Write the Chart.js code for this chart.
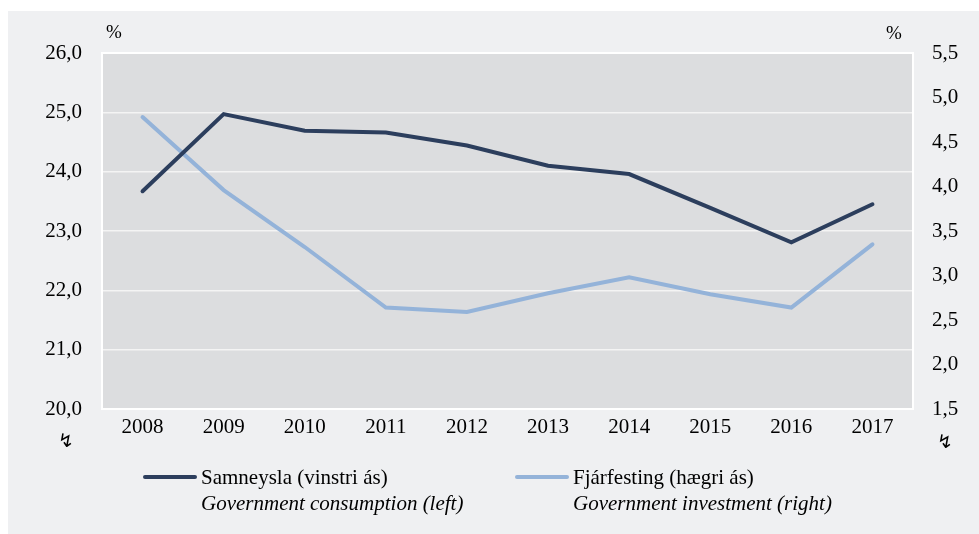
<!DOCTYPE html>
<html>
<head>
<meta charset="utf-8">
<script src="https://cdn.jsdelivr.net/npm/chart.js@4.4.0/dist/chart.umd.min.js"></script>
<style>
  body { margin: 0; background: #ffffff; font-family: 'Liberation Serif', 'Times New Roman', serif; }
  #wrap { position: relative; width: 979px; height: 534px; overflow: hidden; }
  #panel { position: absolute; left: 8px; top: 11px; width: 971px; height: 523px; background: #eff0f2; }
  #chart { position: absolute; left: 0; top: 0; }
  .txt { position: absolute; color: #000; white-space: nowrap; }
  .unit { font-size: 19px; line-height: 19px; }
  .brk { font-family: 'DejaVu Sans', sans-serif; font-size: 19px; line-height: 19px; }
  .leg { font-size: 21px; line-height: 21px; }
  .leg i { font-style: italic; }
  .swatch { position: absolute; height: 4px; border-radius: 2px; }
</style>
</head>
<body>
<div id="wrap">
  <div id="panel"><canvas id="chart" width="971" height="523"></canvas></div>
  <div class="txt unit" style="left:106px; top:22px;">%</div>
  <div class="txt unit" style="left:886px; top:23px;">%</div>
  <div class="txt brk" style="left:58px; top:431px;">↯</div>
  <div class="txt brk" style="left:937px; top:432px;">↯</div>
  <div id="legend"></div>
</div>
<script>
// data
const years = ['2008', '2009', '2010', '2011', '2012', '2013', '2014', '2015', '2016', '2017'];
const consumption = [23.67, 24.97, 24.69, 24.66, 24.44, 24.10, 23.96, 23.39, 22.81, 23.45];
const investment = [4.78, 3.96, 3.32, 2.64, 2.59, 2.80, 2.98, 2.79, 2.64, 3.35];

const consumptionLabel = ['Samneysla (vinstri ás)', 'Government consumption (left)'];
const investmentLabel = ['Fjárfesting (hægri ás)', 'Government investment (right)'];

const darkBlue = '#2c3e5d';
const lightBlue = '#94b3d9';
const serif = "'Liberation Serif', 'Times New Roman', serif";

const comma = v => Number(v).toFixed(1).replace('.', ',');

// grey plot area with a white frame
const plotBackground = {
    id: 'plotBackground',
    beforeDraw(chart) {
        const { ctx, chartArea: a } = chart;
        ctx.save();
        ctx.fillStyle = '#dcdddf';
        ctx.fillRect(a.left, a.top, a.right - a.left, a.bottom - a.top);
        ctx.restore();
    },
    afterDatasetsDraw(chart) {
        const { ctx, chartArea: a } = chart;
        ctx.save();
        ctx.strokeStyle = '#ffffff';
        ctx.lineWidth = 2;
        ctx.strokeRect(a.left, a.top, a.right - a.left, a.bottom - a.top);
        ctx.restore();
    }
};

const ctx = document.getElementById('chart').getContext('2d');
const chart = new Chart(ctx, {
    type: 'line',
    data: {
        labels: years,
        datasets: [
            {
                label: consumptionLabel[0],
                data: consumption,
                yAxisID: 'yLeft',
                borderColor: darkBlue,
                borderWidth: 4,
                pointRadius: 0,
                borderCapStyle: 'round',
                tension: 0,
            },
            {
                label: investmentLabel[0],
                data: investment,
                yAxisID: 'yRight',
                borderColor: lightBlue,
                borderWidth: 4,
                pointRadius: 0,
                borderCapStyle: 'round',
                tension: 0,
            },
        ],
    },
    options: {
        responsive: false,
        animation: false,
        devicePixelRatio: 1,
        layout: { padding: { top: 42, left: 0, right: 0, bottom: 0 } },
        plugins: { legend: { display: false }, tooltip: { enabled: false } },
        scales: {
            x: {
                offset: true,
                grid: { display: false, drawTicks: false },
                border: { display: false },
                ticks: { color: '#000', padding: 6, font: { family: serif, size: 21 } },
                afterFit: s => { s.height = 125; },
            },
            yLeft: {
                position: 'left',
                min: 20,
                max: 26,
                ticks: { stepSize: 1, color: '#000', padding: 20, font: { family: serif, size: 21 }, callback: v => comma(v) },
                grid: { color: '#f4f4f4', lineWidth: 1.5, drawTicks: false },
                border: { display: false },
                afterFit: s => { s.width = 94; },
            },
            yRight: {
                position: 'right',
                min: 1.5,
                max: 5.5,
                ticks: { stepSize: 0.5, color: '#000', padding: 19, font: { family: serif, size: 21 }, callback: v => comma(v) },
                grid: { drawOnChartArea: false, drawTicks: false },
                border: { display: false },
                afterFit: s => { s.width = 66; },
            },
        },
    },
    plugins: [plotBackground],
});

// two-line legend built from the datasets
const legendSpots = [{ line: 143, text: 201 }, { line: 515, text: 573 }];
const legendTexts = [consumptionLabel, investmentLabel];
const legend = document.getElementById('legend');
chart.data.datasets.forEach((ds, i) => {
    const spot = legendSpots[i];
    const sw = document.createElement('div');
    sw.className = 'swatch';
    sw.style.left = spot.line + 'px';
    sw.style.top = '475px';
    sw.style.width = '54px';
    sw.style.background = ds.borderColor;
    legend.appendChild(sw);
    const t1 = document.createElement('div');
    t1.className = 'txt leg';
    t1.style.left = spot.text + 'px';
    t1.style.top = '467px';
    t1.textContent = legendTexts[i][0];
    legend.appendChild(t1);
    const t2 = document.createElement('div');
    t2.className = 'txt leg';
    t2.style.left = spot.text + 'px';
    t2.style.top = '493px';
    t2.innerHTML = '<i>' + legendTexts[i][1] + '</i>';
    legend.appendChild(t2);
});
</script>
</body>
</html>
